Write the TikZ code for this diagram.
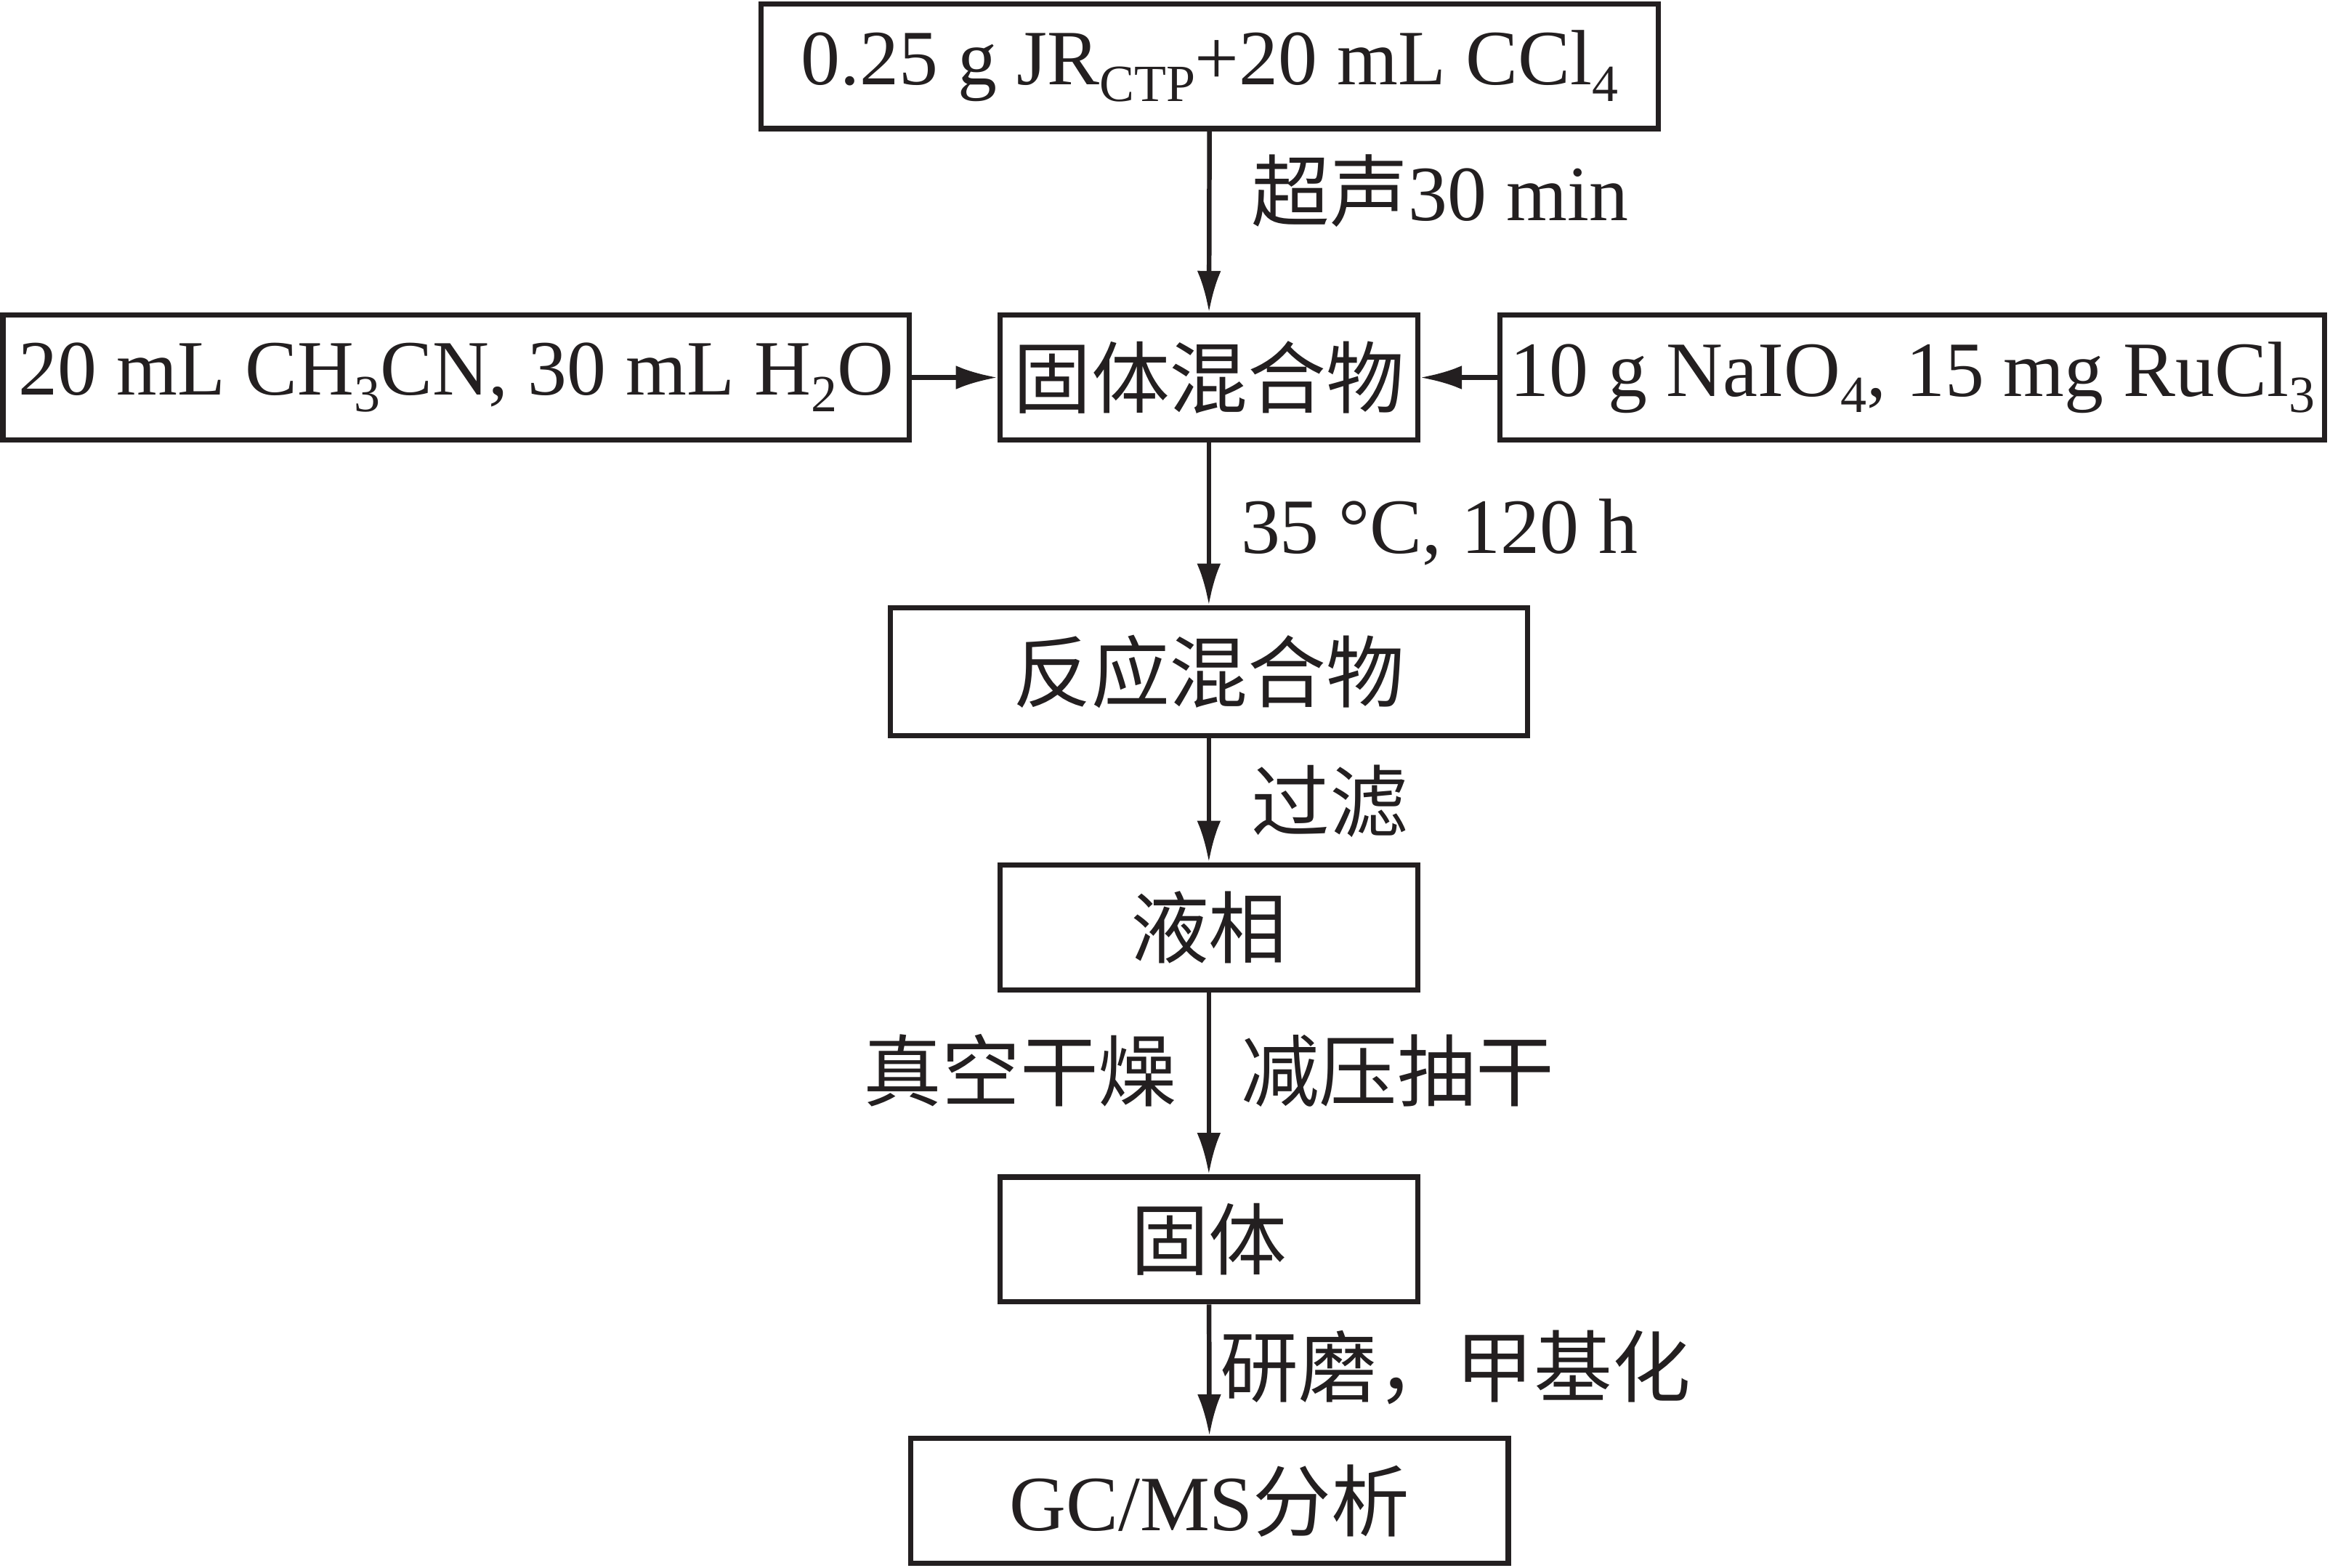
\documentclass[tikz,border=0pt]{standalone}
\usepackage{fontspec}
\setmainfont{Liberation Serif}
\newfontfamily\cjk{Noto Sans CJK SC}
\usetikzlibrary{arrows.meta,positioning}
\definecolor{ink}{HTML}{231F20}
\newcommand{\chemsub}[1]{\raisebox{-0.45ex}{\fontsize{10}{12}\selectfont #1}}

\begin{document}
\begin{tikzpicture}[
    every node/.style={font=\fontsize{15}{18}\selectfont, text=ink},
    stepbox/.style={draw=ink, line width=1pt, minimum height=0.84cm, inner sep=0pt},
    flow/.style={draw=ink, line width=0.9pt, -{Latex[length=2.8mm,width=1.6mm]}},
    lab/.style={right, inner sep=0pt, xshift=0.2cm}
]
    \useasboundingbox (0,0) rectangle (15.68,-10.55);
    % main column
    \node[stepbox, minimum width=6.04cm] (sample) at (8.14,-0.445) {0.25 g JR\chemsub{CTP}+20 mL CCl\chemsub{4}};
    \node[stepbox, minimum width=2.81cm] (solidmix) at (8.135,-2.54) {\cjk 固体混合物};
    \node[stepbox, minimum width=4.29cm, minimum height=0.86cm] (reactmix) at (8.135,-4.52) {\cjk 反应混合物};
    \node[stepbox, minimum width=2.81cm] (liquid) at (8.135,-6.24) {\cjk 液相};
    \node[stepbox, minimum width=2.81cm] (solid) at (8.135,-8.34) {\cjk 固体};
    \node[stepbox, minimum width=4.02cm] (gcms) at (8.14,-10.10) {GC/MS{\cjk 分析}};
    % side inputs
    \node[stepbox, minimum width=6.10cm] (solvent) at (3.07,-2.54) {20 mL CH\chemsub{3}CN, 30 mL H\chemsub{2}O};
    \node[stepbox, minimum width=5.55cm] (oxidant) at (12.87,-2.54) {10 g NaIO\chemsub{4}, 15 mg RuCl\chemsub{3}};
    % connectors
    \draw[flow] (sample) -- node[lab, pos=.33, xshift=0.07cm] {{\cjk 超声}30 min} (solidmix);
    \draw[flow] (solvent) -- (solidmix);
    \draw[flow] (oxidant) -- (solidmix);
    \draw[flow] (solidmix) -- node[lab, pos=.55] {35 °C, 120 h} (reactmix);
    \draw[flow] (reactmix) -- node[lab, pos=.51, xshift=0.07cm] {\cjk 过滤} (liquid);
    \draw[flow] (liquid) -- node[lab, pos=.43] {\cjk 减压抽干}
        node[left, inner sep=0pt, xshift=-0.2cm, pos=.43] {\cjk 真空干燥} (solid);
    \draw[flow] (solid) -- node[lab, pos=.48, xshift=-0.14cm] {\cjk 研磨，甲基化} (gcms);
\end{tikzpicture}
\end{document}
